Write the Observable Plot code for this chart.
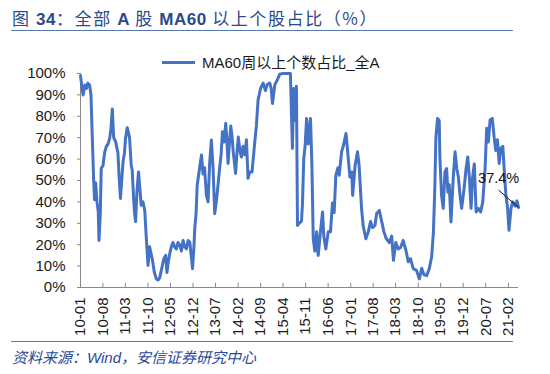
<!DOCTYPE html>
<html><head><meta charset="utf-8">
<script src="https://cdn.jsdelivr.net/npm/d3@7"></script>
<script src="https://cdn.jsdelivr.net/npm/@observablehq/plot@0.6"></script>
<style>
body{margin:0;background:#fff;}
#wrap{position:relative;width:550px;height:374px;overflow:hidden;font-family:"Liberation Sans","Noto Sans CJK SC",sans-serif;}
#title{position:absolute;left:12px;top:5px;font-size:17px;color:#2b4a8b;white-space:nowrap;font-family:"Noto Sans CJK SC",sans-serif;letter-spacing:1.6px;}
#title b{font-family:"Liberation Sans",Arial,sans-serif;font-weight:bold;letter-spacing:0.5px;}
.hline{position:absolute;left:11px;width:502px;height:0;border-top:1.6px solid #5a78b0;}
#legend{position:absolute;left:162px;top:51px;font-size:15px;color:#1a1a1a;white-space:nowrap;}
#legend .sw{display:inline-block;width:33px;height:0;border-top:3px solid #4472C4;vertical-align:middle;margin-right:7px;position:relative;top:-2px;}
#source{position:absolute;left:12px;top:346px;font-size:15px;color:#2a4a9a;font-style:italic;white-space:nowrap;}
#chart{position:absolute;left:0;top:0;}
</style></head><body>
<div id="wrap">
  <div id="chart"></div>
  <div id="title"></div>
  <div class="hline" style="top:30px"></div>
  <div id="legend"></div>
  <div class="hline" style="top:341px"></div>
  <div id="source"></div>
</div>
<script>
const titleParts = [["图 ",false],["34",true],["：全部 ",false],["A",true],[" 股 ",false],["MA60",true],[" 以上个股占比（%）",false]];
const seriesName = "MA60周以上个数占比_全A";
const sourceText = "资料来源：Wind，安信证券研究中心";
const tickLabels = ["10-01","10-08","11-03","11-10","12-05","12-12","13-07","14-02","14-09","15-04","15-11","16-06","17-01","17-08","18-03","18-10","19-05","19-12","20-07","21-02"];
const yTicks = [0,10,20,30,40,50,60,70,80,90,100];
const lastLabel = "37.4%";

const dates = [
"2010-01-01","2010-01-16","2010-01-26","2010-02-11","2010-02-27","2010-03-12","2010-03-28","2010-04-10","2010-04-22","2010-05-05",
"2010-05-14","2010-05-24","2010-06-06","2010-06-18","2010-06-25","2010-07-07","2010-07-16","2010-08-02","2010-08-17","2010-09-03",
"2010-09-18","2010-10-04","2010-10-16","2010-10-29","2010-11-11","2010-11-30","2010-12-12","2010-12-21","2011-01-01","2011-01-14",
"2011-01-26","2011-02-08","2011-02-21","2011-03-03","2011-03-19","2011-04-01","2011-04-10","2011-04-26","2011-05-05","2011-05-18",
"2011-05-27","2011-06-06","2011-06-19","2011-07-04","2011-07-17","2011-07-29","2011-08-15","2011-09-01","2011-09-16","2011-10-02",
"2011-10-17","2011-10-30","2011-11-12","2011-12-01","2011-12-20","2012-01-05","2012-01-20","2012-02-09","2012-02-28","2012-03-17",
"2012-03-29","2012-04-11","2012-04-24","2012-05-09","2012-05-25","2012-06-10","2012-06-26","2012-07-11","2012-07-27","2012-08-13",
"2012-08-28","2012-09-14","2012-09-29","2012-10-15","2012-11-01","2012-11-13","2012-11-26","2012-12-08","2012-12-17","2012-12-30",
"2013-01-09","2013-01-21","2013-02-04","2013-02-19","2013-03-05","2013-03-20","2013-04-06","2013-04-22","2013-05-07","2013-05-23",
"2013-06-08","2013-06-24","2013-07-09","2013-07-25","2013-08-10","2013-08-23","2013-09-05","2013-09-21","2013-10-06","2013-10-16",
"2013-10-28","2013-11-11","2013-11-23","2013-12-06","2013-12-15","2013-12-28","2014-01-07","2014-01-19","2014-02-02","2014-02-17",
"2014-03-03","2014-03-18","2014-04-04","2014-04-20","2014-05-05","2014-05-20","2014-06-12","2014-07-07","2014-07-23","2014-08-08",
"2014-09-01","2014-09-25","2014-10-17","2014-11-02","2014-11-27","2014-12-10","2014-12-22","2015-01-14","2015-02-06","2015-03-01",
"2015-04-02","2015-05-03","2015-06-10","2015-06-29","2015-07-11","2015-07-27","2015-08-06","2015-08-16","2015-09-01","2015-09-23",
"2015-10-02","2015-10-14","2015-10-27","2015-11-10","2015-11-25","2015-12-17","2015-12-30","2016-01-12","2016-01-27","2016-02-13",
"2016-02-28","2016-03-20","2016-04-09","2016-04-21","2016-05-10","2016-06-02","2016-06-23","2016-07-12","2016-07-28","2016-08-13",
"2016-09-02","2016-09-14","2016-10-06","2016-10-22","2016-11-17","2016-12-09","2016-12-24","2017-01-10","2017-01-19","2017-02-11",
"2017-03-06","2017-03-21","2017-04-13","2017-04-29","2017-05-24","2017-06-16","2017-07-07","2017-07-26","2017-08-18","2017-09-03",
"2017-09-28","2017-10-20","2017-11-11","2017-12-01","2018-01-01","2018-01-23","2018-02-09","2018-03-03","2018-03-26","2018-04-17",
"2018-05-12","2018-06-06","2018-06-29","2018-07-20","2018-08-15","2018-09-15","2018-10-12","2018-11-03","2018-11-25","2018-12-20",
"2019-01-15","2019-02-06","2019-02-22","2019-03-08","2019-03-17","2019-04-02","2019-04-18","2019-04-24","2019-05-10","2019-05-26",
"2019-06-11","2019-06-27","2019-07-09","2019-07-22","2019-08-07","2019-08-29","2019-09-15","2019-10-01","2019-10-16","2019-11-01",
"2019-11-16","2019-12-09","2019-12-28","2020-01-13","2020-01-28","2020-02-13","2020-02-28","2020-03-15","2020-04-01","2020-04-22",
"2020-05-14","2020-06-03","2020-06-25","2020-07-10","2020-07-26","2020-08-11","2020-09-01","2020-09-19","2020-10-04","2020-10-20",
"2020-11-05","2020-11-21","2020-12-10","2020-12-22","2021-01-08","2021-01-24","2021-02-06","2021-02-25","2021-03-14","2021-04-06",
"2021-04-22","2021-05-07"
];
const values = [
99,93,90,94.6,93,95.5,94.6,90,71,51,
41,49,40,35.5,22,34,55.6,57,63,66,
67,69.7,74,83.4,70,68,65,63,52,41.6,
50,59,63,69.7,74.7,72,70,57,55,42,
35,30.8,45,54,46,38.4,40,36,22.8,10.3,
19,16,13,7,4,3.5,4.5,9,13.4,15,
7,12,15.7,19,21,19,18,21,20,17,
22,19,18,22,21,15,8.8,18,27.5,35,
47.8,52,57,61.9,53,56,43,40,58,68.9,
56,34.5,40,47.8,56,62,72.8,68,76.7,70,
58,68,75.5,70,64,58,53.3,62,70.3,64,
61,66,62,69,51,54,54,67.6,75.5,87.6,
93.1,95.5,92,94.8,95.5,93,86,94.8,97,99.7,
100,100,100,65,93,78,94,29,30,31,
39,60,66,79,67,79,58,22.8,17,26,
15,26,35.3,24,18,26,26,39.5,35,52.5,
56,52.5,63.4,66,72,60,51.6,54,43,57,
63.4,57,37,28.6,22.8,26,30.8,28,29,34.6,
36,31,26,23,21,24,12.7,21,18,18.7,
22,17.5,12,13.5,8.8,8,4,9,6,5.5,
9,14.6,26,47.8,69.7,79,78,61,43,37,
54,55.6,44.5,48,30.6,51.6,63.4,55.6,51.6,43,
37,46,55.6,61,51.6,37,51.6,57.7,35.3,37,
35.3,40,55.6,74.4,68,78.3,79,70,64,69,
58,65,66,55.6,43,37,26.7,37,40,38,
40.5,37.4
];
// annotation anchor (leader start / label) in data units
const annotDate = "2020-10-31";
const annotLeaderY = 45.5;
const annotTextY = 50.9;

const parse = d3.utcParse("%Y-%m-%d");
const data = dates.map((d,i)=>({date: parse(d), value: values[i]}));
const tickDates = tickLabels.map(s => d3.utcParse("%y-%m")(s));
const xDomain = [data[0].date, data[data.length-1].date];
const last = data[data.length-1];
const annot = [{labelDate: parse(annotDate), leaderY: annotLeaderY, textY: annotTextY, date: last.date, value: last.value, label: lastLabel}];

const chart = Plot.plot({
  width: 550, height: 374,
  marginLeft: 80, marginRight: 32, marginTop: 73, marginBottom: 87,
  style: {fontFamily: "'Liberation Sans', Arial, sans-serif", fontSize: "15px", color: "#1a1a1a", background: "transparent", overflow: "visible"},
  x: {type: "utc", domain: xDomain, label: null},
  y: {domain: [0,100], label: null},
  marks: [
    Plot.axisY({ticks: yTicks, tickFormat: d => d + "%", tickSize: 3, tickPadding: 12, stroke: "#888", fontSize: 15, label: null}),
    Plot.axisX({ticks: tickDates, tickFormat: (d,i) => tickLabels[i], tickRotate: -90, tickSize: 0, tickPadding: 10, fontSize: 15, label: null}),
    Plot.ruleX(tickDates, {y1: 0, y2: 2, stroke: "#888"}),
    Plot.ruleY([0], {stroke: "#888"}),
    Plot.ruleX([xDomain[0]], {stroke: "#888"}),
    Plot.lineY(data, {x: "date", y: "value", stroke: "#4472C4", strokeWidth: 3, strokeLinejoin: "round"}),
    Plot.link(annot, {x1: "labelDate", y1: "leaderY", x2: "date", y2: "value", stroke: "#111", strokeWidth: 1}),
    Plot.text(annot, {x: "labelDate", y: "textY", text: "label", fontSize: 14.5, fill: "#111"})
  ]
});
document.getElementById("chart").append(chart);

const t = document.getElementById("title");
titleParts.forEach(([s,b]) => { const el = document.createElement(b ? "b" : "span"); el.textContent = s; t.append(el); });
const lg = document.getElementById("legend");
const sw = document.createElement("span"); sw.className = "sw"; lg.append(sw);
lg.append(document.createTextNode(seriesName));
document.getElementById("source").textContent = sourceText;
</script>
</body></html>
